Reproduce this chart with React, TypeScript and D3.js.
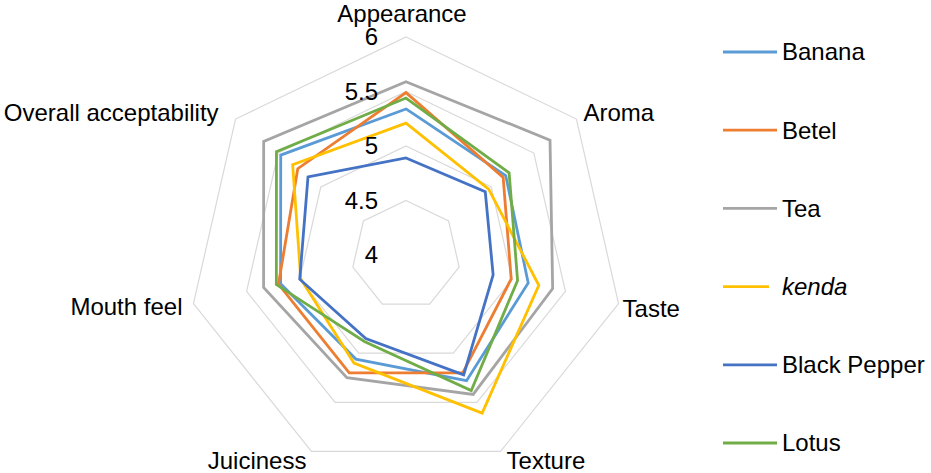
import React from 'react';
import * as d3 from 'd3';

// axes of the radar, clockwise from top
const attributes = ['Appearance', 'Aroma', 'Taste', 'Texture', 'Juiciness', 'Mouth feel', 'Overall acceptability'];
const seriesNames = ['Banana', 'Betel', 'Tea', 'kenda', 'Black Pepper', 'Lotus'];
const seriesColors = ['#5B9BD5', '#ED7D31', '#A5A5A5', '#FFC000', '#4472C4', '#70AD47'];

const banana = [5.34, 5.17, 5.15, 5.28, 5.06, 5.18, 5.47];
const betel = [5.49, 5.14, 4.99, 5.2, 5.2, 5.2, 5.27];
const tea = [5.59, 5.69, 5.38, 5.42, 5.25, 5.34, 5.67];
const kenda = [5.21, 4.97, 5.25, 5.61, 5.1, 4.99, 5.33];
const blackPepper = [4.89, 4.93, 4.82, 5.22, 4.85, 5.0, 5.15];
const lotus = [5.44, 5.21, 5.05, 5.38, 4.88, 5.22, 5.52];

const ticks = [4, 4.5, 5, 5.5, 6];

const seriesValues = [banana, betel, tea, kenda, blackPepper, lotus];

const W = 931;
const H = 473;
const cx = 406;
const cy = 255;
const R = 218;
const FONT = '"Liberation Sans", Arial, sans-serif';
const FS = 24;

// label placement per axis: anchor, dx, dy from outer vertex
const labelPos: { anchor: string; x: number; y: number }[] = [
  { anchor: 'middle', x: -4, y: -23 },
  { anchor: 'start', x: 7, y: -6 },
  { anchor: 'start', x: 4, y: 5 },
  { anchor: 'start', x: 6, y: 9 },
  { anchor: 'end', x: -5, y: 9 },
  { anchor: 'end', x: -11, y: 3 },
  { anchor: 'end', x: -17, y: -6 },
];

const App: React.FC = () => {
  const r = d3.scaleLinear().domain([4, 6]).range([0, R]);
  const angle = (i: number) => (i * 2 * Math.PI) / attributes.length;

  const radial = d3
    .lineRadial<number>()
    .angle((_, i) => angle(i))
    .radius(d => r(d))
    .curve(d3.curveLinearClosed);

  const ring = (v: number) => radial(attributes.map(() => v)) || '';

  const vertex = (i: number, v: number) => {
    const a = angle(i);
    return [r(v) * Math.sin(a), -r(v) * Math.cos(a)];
  };

  const legendY = d3.scalePoint<string>().domain(seriesNames).range([52, 443]);

  return (
    <svg
      width={W}
      height={H}
      style={{ position: 'absolute', left: 0, top: 0, background: '#fff' }}
      fontFamily={FONT}
    >
      <g transform={`translate(${cx},${cy})`}>
        {ticks.filter(t => t > 4).map(t => (
          <path key={t} d={ring(t)} fill="none" stroke="#D9D9D9" strokeWidth={1.2} />
        ))}
        {seriesValues.map((vals, si) => (
          <path
            key={seriesNames[si]}
            d={radial(vals) || ''}
            fill="none"
            stroke={seriesColors[si]}
            strokeWidth={2.8}
            strokeLinejoin="miter"
          />
        ))}
        {ticks.map(t => (
          <text
            key={t}
            x={-28}
            y={-r(t)}
            dy="0.35em"
            textAnchor="end"
            fontSize={FS}
            fill="#000"
          >
            {t}
          </text>
        ))}
        {attributes.map((a, i) => {
          const [x, y] = vertex(i, 6);
          const p = labelPos[i];
          return (
            <text
              key={a}
              x={x + p.x}
              y={y + p.y}
              dy="0.35em"
              textAnchor={p.anchor}
              fontSize={FS}
              fill="#000"
            >
              {a}
            </text>
          );
        })}
      </g>
      {seriesNames.map((s, si) => {
        const y = legendY(s) || 0;
        const italic = s === 'kenda';
        return (
          <g key={s}>
            <line
              x1={723}
              x2={italic ? 769 : 777}
              y1={y}
              y2={y}
              stroke={seriesColors[si]}
              strokeWidth={2.8}
            />
            <text
              x={782}
              y={y}
              dy="0.35em"
              fontSize={FS}
              fontStyle={italic ? 'italic' : 'normal'}
              fill="#000"
            >
              {s}
            </text>
          </g>
        );
      })}
    </svg>
  );
};

export default App;
